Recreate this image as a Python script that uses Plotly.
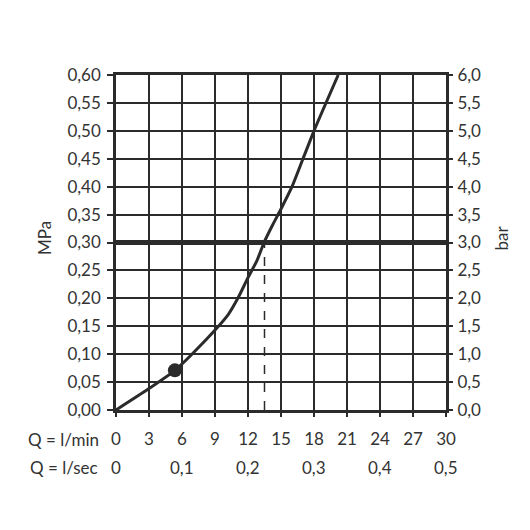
import plotly.graph_objects as go

# Data
flow_lmin = [0, 2.9, 5.35, 7.5, 10.2, 11.1, 12.0, 12.8, 13.46, 14.2, 15.0, 16.0, 17.0, 18.0, 20.2]
pressure_mpa = [0, 0.037, 0.071, 0.112, 0.171, 0.201, 0.237, 0.267, 0.30, 0.33, 0.36, 0.40, 0.45, 0.50, 0.60]

marker_q = [5.35]
marker_p = [0.071]

ref_pressure = 0.30
ref_flow = 13.5

x_ticks = [0, 3, 6, 9, 12, 15, 18, 21, 24, 27, 30]
x_ticklabels = ["0", "3", "6", "9", "12", "15", "18", "21", "24", "27", "30"]
lsec_positions = [0, 6, 12, 18, 24, 30]
lsec_labels = ["0", "0,1", "0,2", "0,3", "0,4", "0,5"]

y_ticks = [0.0, 0.05, 0.10, 0.15, 0.20, 0.25, 0.30, 0.35, 0.40, 0.45, 0.50, 0.55, 0.60]
bar_ticks = [0.0, 0.5, 1.0, 1.5, 2.0, 2.5, 3.0, 3.5, 4.0, 4.5, 5.0, 5.5, 6.0]

INK = "#2b2b2b"
TXT = "#333333"
FONT = "Lato"
FS = 17

fig = go.Figure()

# Reference horizontal line
fig.add_trace(go.Scatter(x=[0, 30], y=[ref_pressure, ref_pressure], mode="lines",
                         line=dict(color=INK, width=5), hoverinfo="skip", showlegend=False))
# Dashed drop line
fig.add_trace(go.Scatter(x=[ref_flow, ref_flow], y=[0, ref_pressure], mode="lines",
                         line=dict(color=INK, width=1.5, dash="dash"), hoverinfo="skip", showlegend=False))
# Curve
fig.add_trace(go.Scatter(x=flow_lmin, y=pressure_mpa, mode="lines",
                         line=dict(color=INK, width=3, shape="spline", smoothing=0.6),
                         cliponaxis=True, showlegend=False))
# Marker
fig.add_trace(go.Scatter(x=marker_q, y=marker_p, mode="markers",
                         marker=dict(color=INK, size=14), showlegend=False))
# invisible trace for right axis
fig.add_trace(go.Scatter(x=[0], y=[0], yaxis="y2", mode="markers",
                         marker=dict(opacity=0), hoverinfo="skip", showlegend=False))

axis_common = dict(showline=True, linecolor=INK, linewidth=2.5, mirror=True,
                   showgrid=True, gridcolor=INK, gridwidth=2, zeroline=False,
                   ticks="outside", tickcolor=INK, tickwidth=2,
                   tickfont=dict(family=FONT, size=FS, color=TXT))

fig.update_layout(
    width=530, height=530,
    margin=dict(l=108, r=92, t=67, b=128),
    paper_bgcolor="white", plot_bgcolor="white",
    separators=",.",
    font=dict(family=FONT, size=FS, color=TXT),
    xaxis=dict(range=[0, 30], tickvals=x_ticks, ticktext=x_ticklabels, ticklen=4,
               ticklabelstandoff=8, **axis_common),
    yaxis=dict(range=[0, 0.6], tickvals=y_ticks, tickformat=".2f", ticklen=6,
               ticklabelstandoff=3, **axis_common),
    yaxis2=dict(range=[0, 6], tickvals=bar_ticks, tickformat=".1f", overlaying="y", side="right",
                showline=False, showgrid=False, zeroline=False, ticks="outside", ticklen=6,
                ticklabelstandoff=1,
                tickcolor=INK, tickwidth=2, tickfont=dict(family=FONT, size=FS, color=TXT)),
)

annotations = []
annotations.append(dict(text="MPa", x=-0.2185, y=0.513, xref="paper", yref="paper", textangle=-90,
                        xanchor="center", yanchor="middle",
                        showarrow=False, font=dict(family=FONT, size=FS, color=TXT)))
annotations.append(dict(text="bar", x=1.168, y=0.513, xref="paper", yref="paper", textangle=-90,
                        xanchor="center", yanchor="middle",
                        showarrow=False, font=dict(family=FONT, size=FS, color=TXT)))
annotations.append(dict(text="Q = l/min", x=-0.044, y=-0.087, xref="paper", yref="paper",
                        xanchor="right", yanchor="middle", showarrow=False,
                        font=dict(family=FONT, size=FS, color=TXT)))
annotations.append(dict(text="Q = l/sec", x=-0.048, y=-0.173, xref="paper", yref="paper",
                        xanchor="right", yanchor="middle", showarrow=False,
                        font=dict(family=FONT, size=FS, color=TXT)))
for pos, lab in zip(lsec_positions, lsec_labels):
    annotations.append(dict(text=lab, x=pos, y=-0.173, xref="x", yref="paper",
                            xanchor="center", yanchor="middle", showarrow=False,
                            font=dict(family=FONT, size=FS, color=TXT)))
fig.update_layout(annotations=annotations)

fig.write_html("out.html")
